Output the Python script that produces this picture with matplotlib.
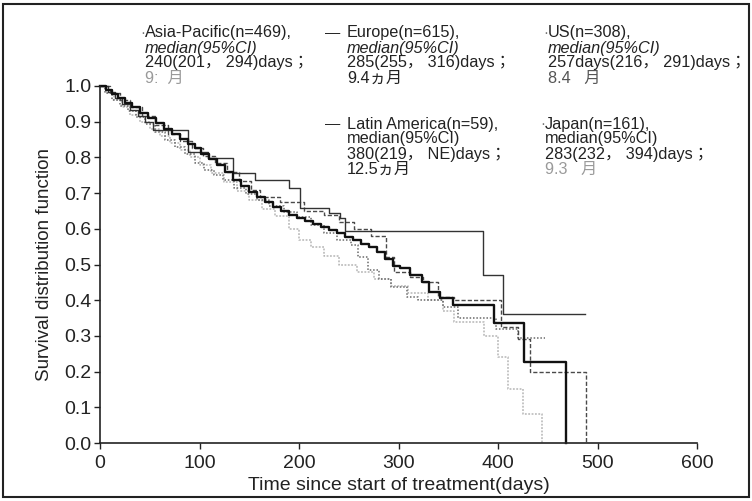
"""Kaplan-Meier style survival curves by region."""

import matplotlib

matplotlib.use("Agg")
import matplotlib.pyplot as plt
from matplotlib.patches import Rectangle

plt.rcParams["font.family"] = ["Liberation Sans", "Noto Sans CJK JP"]

W, H = 752, 501

# step curves: days at which the survival estimate changes, value after the step
EUROPE_DAYS = [0, 6, 12, 18, 25, 32, 40, 48, 56, 64, 72, 80, 88, 95, 102, 110,
               118, 126, 134, 142, 150, 158, 166, 174, 182, 190, 198, 206, 214,
               222, 230, 238, 246, 254, 262, 270, 278, 286, 294, 302, 312, 324,
               331, 342, 355, 396, 426, 468]
EUROPE_SURV = [1.0, 0.99, 0.978, 0.966, 0.953, 0.94, 0.925, 0.91, 0.895, 0.88,
               0.866, 0.852, 0.838, 0.825, 0.81, 0.796, 0.78, 0.76, 0.738, 0.72,
               0.703, 0.688, 0.674, 0.662, 0.65, 0.64, 0.63, 0.622, 0.613, 0.604,
               0.596, 0.588, 0.578, 0.568, 0.558, 0.548, 0.536, 0.515, 0.497,
               0.49, 0.471, 0.451, 0.423, 0.406, 0.387, 0.336, 0.227, 0.0]

LATAM_DAYS = [0, 8, 15, 22, 30, 38, 45, 53, 88, 109, 134, 156, 190, 201, 230,
              241, 246, 385, 405, 487]
LATAM_SURV = [1.0, 0.983, 0.966, 0.949, 0.932, 0.915, 0.898, 0.877, 0.815,
              0.798, 0.756, 0.737, 0.714, 0.658, 0.644, 0.63, 0.594, 0.47, 0.36,
              0.36]

JAPAN_DAYS = [0, 10, 20, 30, 42, 55, 68, 80, 92, 104, 116, 128, 140, 152, 161,
              181, 205, 225, 240, 255, 272, 287, 295, 312, 325, 340, 356, 403,
              420, 432, 488]
JAPAN_SURV = [1.0, 0.98, 0.96, 0.94, 0.915, 0.89, 0.865, 0.845, 0.825, 0.805,
              0.785, 0.76, 0.735, 0.71, 0.69, 0.675, 0.65, 0.64, 0.62, 0.60,
              0.58, 0.52, 0.48, 0.465, 0.45, 0.41, 0.40, 0.325, 0.29, 0.20, 0.0]

US_DAYS = [0, 5, 12, 20, 28, 36, 45, 55, 65, 75, 85, 95, 105, 115, 124, 135,
           147, 158, 170, 185, 198, 212, 225, 238, 252, 259, 269, 280, 292, 309,
           320, 345, 360, 398, 420, 447]
US_SURV = [1.0, 0.98, 0.962, 0.945, 0.93, 0.912, 0.893, 0.87, 0.85, 0.83, 0.81,
           0.785, 0.765, 0.75, 0.737, 0.715, 0.698, 0.68, 0.665, 0.648, 0.633,
           0.61, 0.588, 0.57, 0.555, 0.521, 0.485, 0.46, 0.437, 0.409, 0.40,
           0.38, 0.35, 0.32, 0.294, 0.294]

ASIA_DAYS = [0, 6, 14, 22, 30, 40, 50, 60, 70, 80, 90, 100, 112, 125, 138, 150,
             163, 176, 190, 200, 212, 225, 240, 258, 275, 292, 310, 330, 345,
             356, 386, 400, 410, 425, 444]
ASIA_SURV = [1.0, 0.98, 0.96, 0.94, 0.92, 0.9, 0.88, 0.86, 0.84, 0.82, 0.80,
             0.78, 0.755, 0.73, 0.705, 0.68, 0.655, 0.635, 0.6, 0.57, 0.55,
             0.525, 0.5, 0.48, 0.46, 0.44, 0.42, 0.40, 0.37, 0.34, 0.3, 0.24,
             0.15, 0.08, 0.0]

X_TICKS = [0, 100, 200, 300, 400, 500, 600]
Y_TICKS = [0.0, 0.1, 0.2, 0.3, 0.4, 0.5, 0.6, 0.7, 0.8, 0.9, 1.0]

# legend blocks: marker, text lines, colour of the last line
LEGEND = [
    ("·", ["Asia-Pacific(n=469),", "median(95%CI)", "240(201， 294)days；", "9:  月"], "#9a9a9a"),
    ("—", ["Europe(n=615),", "median(95%CI)", "285(255， 316)days；", "9.4ヵ月"], "#222222"),
    ("·", ["US(n=308),", "median(95%CI)", "257days(216， 291)days；", "8.4   月"], "#555555"),
    ("—", ["Latin America(n=59),", "median(95%CI)", "380(219， NE)days；", "12.5ヵ月"], "#222222"),
    ("·", ["Japan(n=161),", "median(95%CI)", "283(232， 394)days；", "9.3   月"], "#9a9a9a"),
]
LEGEND_POS = [(145, 33), (347, 33), (548, 33), (347, 124), (545, 124)]
ITALIC_MEDIAN = [True, True, True, False, False]


def px(x, y):
    return x / W, 1 - y / H


def main():
    fig = plt.figure(figsize=(W / 100, H / 100), dpi=100)
    ax = fig.add_axes([100 / W, 1 - 443 / H, 597 / W, 357 / H])

    ax.step(ASIA_DAYS, ASIA_SURV, where="post", color="#b5b5b5", lw=1.1,
            linestyle=(0, (1.2, 1.0)), clip_on=False)
    ax.step(US_DAYS, US_SURV, where="post", color="#6a6a6a", lw=1.1,
            linestyle=(0, (1.0, 1.2)), clip_on=False)
    ax.step(JAPAN_DAYS, JAPAN_SURV, where="post", color="#4a4a4a", lw=1.0,
            linestyle=(0, (3.0, 1.5)), clip_on=False)
    ax.step(LATAM_DAYS, LATAM_SURV, where="post", color="#333333", lw=1.0,
            clip_on=False)
    ax.step(EUROPE_DAYS, EUROPE_SURV, where="post", color="#111111", lw=1.7,
            clip_on=False)

    ax.set_xlim(0, 600)
    ax.set_ylim(0, 1.0)
    ax.set_xticks(X_TICKS)
    ax.set_yticks(Y_TICKS)
    ax.set_yticklabels([f"{v:.1f}" for v in Y_TICKS])
    ax.tick_params(direction="out", length=4, width=1.0, labelsize=14,
                   colors="#222222")
    ax.tick_params(axis="x", pad=5)
    ax.tick_params(axis="y", pad=2)
    for side in ("top", "right"):
        ax.spines[side].set_visible(False)
    for side in ("left", "bottom"):
        ax.spines[side].set_linewidth(1.2)
        ax.spines[side].set_color("#222222")

    ax.set_xlabel("Time since start of treatment(days)", fontsize=14,
                  color="#222222", labelpad=3)
    ax.set_ylabel("Survival distribution function", fontsize=13.5,
                  color="#222222", labelpad=8)

    for (marker, lines, last_color), (x, y), italic in zip(LEGEND, LEGEND_POS, ITALIC_MEDIAN):
        if marker == "—":
            fig.text(*px(x - 22, y), marker, fontsize=11, va="center", color="#222222")
        else:
            fig.text(*px(x - 5, y), marker, fontsize=11, va="center", color="#777777")
        for i, line in enumerate(lines):
            fig.text(
                *px(x, y + i * 15),
                line,
                fontsize=11.7,
                va="center",
                color=last_color if i == 3 else "#222222",
                style="italic" if (i == 1 and italic) else "normal",
            )

    fig.add_artist(Rectangle((3 / W, 4 / H), 746 / W, 493 / H,
                             transform=fig.transFigure, fill=False,
                             edgecolor="#222222", lw=1.5))

    fig.savefig("out.png", dpi=100)
    plt.close(fig)


if __name__ == "__main__":
    main()
